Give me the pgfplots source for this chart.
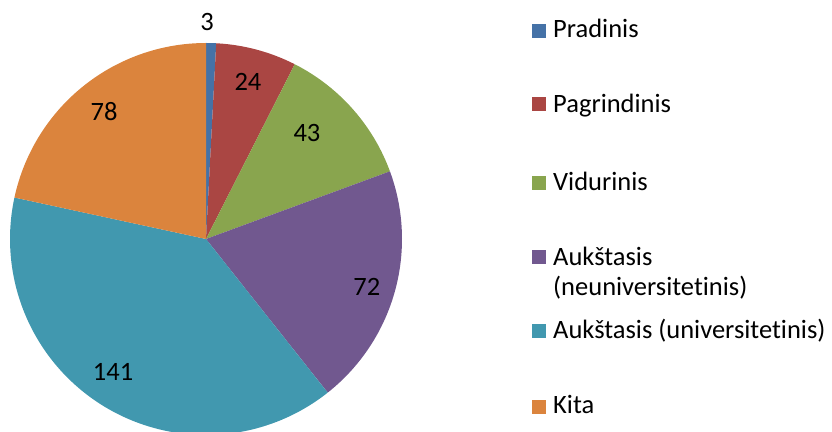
\documentclass[border=0pt]{standalone}
\usepackage{fontspec}
\setmainfont{Carlito}[Ligatures=NoCommon]
\usepackage{pgfplots}
\pgfplotsset{compat=1.18}
\usepackage{pgfplotstable}
\definecolor{pc0}{HTML}{4572A7}
\definecolor{pc1}{HTML}{AA4643}
\definecolor{pc2}{HTML}{89A54E}
\definecolor{pc3}{HTML}{71588F}
\definecolor{pc4}{HTML}{4198AF}
\definecolor{pc5}{HTML}{DB843D}
\pgfplotstableread{
name value
Pradinis 3
Pagrindinis 24
Vidurinis 43
AukN 72
AukU 141
Kita 78
}\piedata
\newcommand\bigfont{\fontsize{26.5bp}{30bp}\selectfont}
\begin{document}
\begin{tikzpicture}
\useasboundingbox (0bp,0bp) rectangle (832bp,432bp);
\def\total{0}
\pgfplotsforeachungrouped \i in {0,...,5}{%
  \pgfplotstablegetelem{\i}{value}\of\piedata
  \pgfmathsetmacro\total{\total+\pgfplotsretval}%
}
\def\cum{0}
\pgfplotsforeachungrouped \i in {0,...,5}{%
  \pgfplotstablegetelem{\i}{value}\of\piedata
  \pgfmathsetmacro\st{90-\cum/\total*360}%
  \pgfmathsetmacro\cum{\cum+\pgfplotsretval}%
  \pgfmathsetmacro\en{90-\cum/\total*360}%
  \expandafter\xdef\csname st\i\endcsname{\st}%
  \expandafter\xdef\csname en\i\endcsname{\en}%
}
\begin{axis}[hide axis, scale only axis, width=392bp, height=392bp,
  xmin=-1, xmax=1, ymin=-1, ymax=1, clip=false,
  at={(10bp,-3bp)}, anchor=south west]
\pgfplotsinvokeforeach{0,...,5}{
  \edef\lo{\csname en#1\endcsname}\edef\hi{\csname st#1\endcsname}
  \addplot[fill=pc#1, draw=none, domain=\lo:\hi, samples=90, variable=\t]
    ({cos(\t)},{sin(\t)}) -- (axis cs:0,0) -- cycle;
}
\node[font=\bigfont] at (axis cs:0.005,1.107) {3};
\node[font=\bigfont] at (axis cs:0.214,0.801) {24};
\node[font=\bigfont] at (axis cs:0.515,0.541) {43};
\node[font=\bigfont] at (axis cs:0.821,-0.245) {72};
\node[font=\bigfont] at (axis cs:-0.474,-0.679) {141};
\node[font=\bigfont] at (axis cs:-0.520,0.648) {78};
\end{axis}
% legend
\begin{scope}[x=1bp, y=1bp, every node/.style={font=\bigfont, inner sep=0pt, anchor=base west}]
\fill[pc0] (532,394) rectangle (546,408);
\node at (553,394) {Pradinis};
\fill[pc1] (532,321) rectangle (546,335);
\node at (553,320) {Pagrindinis};
\fill[pc2] (532,242) rectangle (546,256);
\node at (553,242) {Vidurinis};
\fill[pc3] (532,168) rectangle (546,182);
\node at (553,167) {Aukštasis};
\node at (553,137) {(neuniversitetinis)};
\fill[pc4] (532,94) rectangle (546,108);
\node at (553,94) {Aukštasis (universitetinis)};
\fill[pc5] (532,18) rectangle (546,32);
\node at (553,19) {Kita};
\end{scope}
\end{tikzpicture}
\end{document}
